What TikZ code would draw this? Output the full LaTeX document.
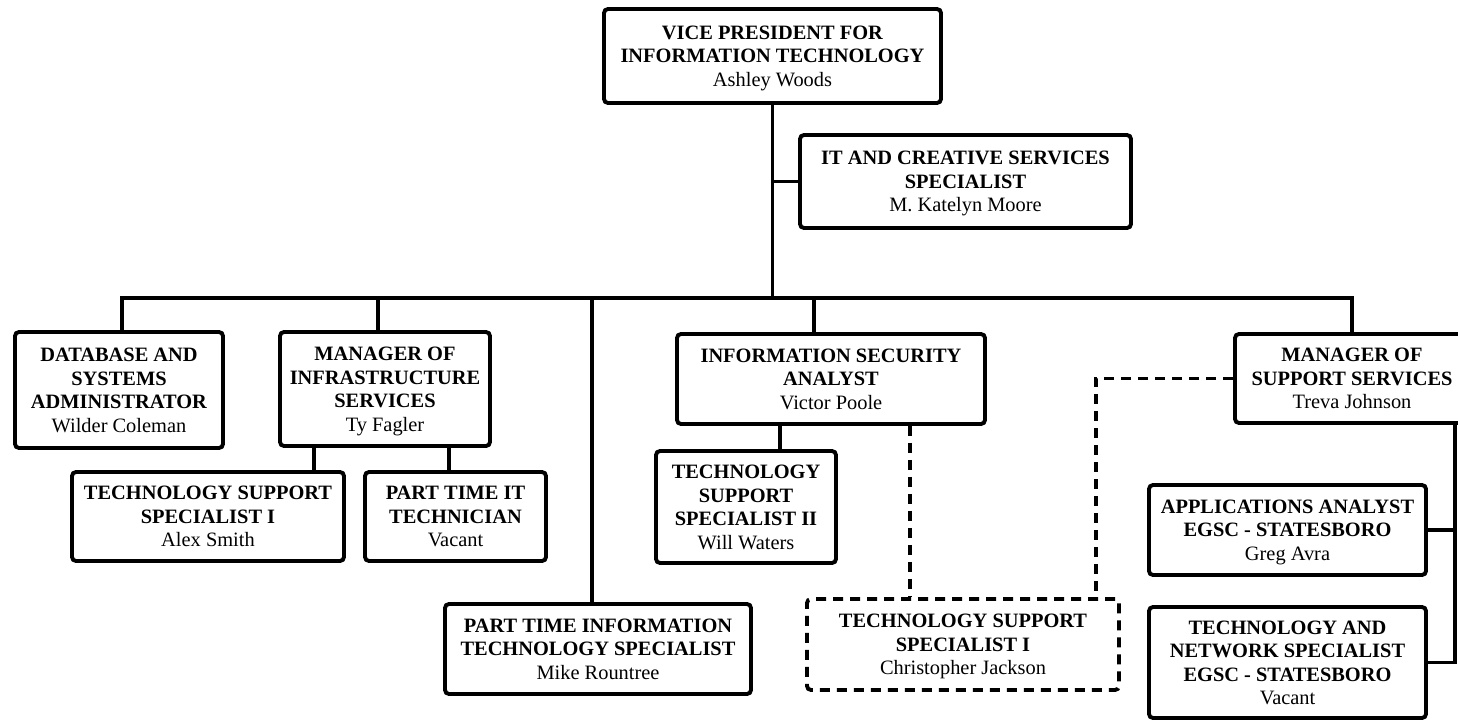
\documentclass[tikz,border=0pt]{standalone}
\usepackage{fontspec}
\setmainfont{Liberation Serif}
\begin{document}
\begin{tikzpicture}[x=1pt,y=-1pt,
  box/.style={draw, line width=3.9pt, rounded corners=4pt, align=center, inner sep=0pt,
    text depth=-5pt, font=\fontsize{20.4}{23.5}\selectfont},
  dbox/.style={box, dash pattern=on 10pt off 7pt},
  conn/.style={line width=3.6pt},
  dconn/.style={line width=3.6pt, dash pattern=on 10pt off 7pt}]
\useasboundingbox (0,0) rectangle (1458,723);
\fill[white] (0,0) rectangle (1458,723);
\begin{scope}
\clip (0,0) rectangle (1458,723);

\node[box, minimum width=337pt, minimum height=94pt] (vp) at (772.5,56)
  {\textbf{VICE PRESIDENT FOR}\\\textbf{INFORMATION TECHNOLOGY}\\Ashley Woods};
\node[box, minimum width=331pt, minimum height=93pt] (itc) at (965.5,181.5)
  {\textbf{IT AND CREATIVE SERVICES}\\\textbf{SPECIALIST}\\M. Katelyn Moore};
\node[box, minimum width=208pt, minimum height=116pt] (db) at (119,390)
  {\textbf{DATABASE AND}\\\textbf{SYSTEMS}\\\textbf{ADMINISTRATOR}\\Wilder Coleman};
\node[box, minimum width=210pt, minimum height=114pt] (mis) at (385,389)
  {\textbf{MANAGER OF}\\\textbf{INFRASTRUCTURE}\\\textbf{SERVICES}\\Ty Fagler};
\node[box, minimum width=272pt, minimum height=89pt] (tssa) at (208,516.5)
  {\textbf{TECHNOLOGY SUPPORT}\\\textbf{SPECIALIST I}\\Alex Smith};
\node[box, minimum width=181pt, minimum height=89pt] (ptit) at (455.5,516.5)
  {\textbf{PART TIME IT}\\\textbf{TECHNICIAN}\\Vacant};
\node[box, minimum width=306pt, minimum height=90pt] (ptis) at (598,649)
  {\textbf{PART TIME INFORMATION}\\\textbf{TECHNOLOGY SPECIALIST}\\Mike Rountree};
\node[box, minimum width=308pt, minimum height=90pt] (isa) at (831,379)
  {\textbf{INFORMATION SECURITY}\\\textbf{ANALYST}\\Victor Poole};
\node[box, minimum width=180pt, minimum height=112pt] (tssb) at (746,507)
  {\textbf{TECHNOLOGY}\\\textbf{SUPPORT}\\\textbf{SPECIALIST II}\\Will Waters};
\node[dbox, minimum width=312pt, minimum height=91pt] (tssd) at (963,644.5)
  {\textbf{TECHNOLOGY SUPPORT}\\\textbf{SPECIALIST I}\\Christopher Jackson};
\node[box, minimum width=234pt, minimum height=89pt] (mss) at (1352,378.5)
  {\textbf{MANAGER OF}\\\textbf{SUPPORT SERVICES}\\Treva Johnson};
\node[box, minimum width=277pt, minimum height=90pt] (aa) at (1287.5,530)
  {\textbf{APPLICATIONS ANALYST}\\\textbf{EGSC - STATESBORO}\\Greg Avra};
\node[box, minimum width=277pt, minimum height=111pt] (tn) at (1287.5,662.5)
  {\textbf{TECHNOLOGY AND}\\\textbf{NETWORK SPECIALIST}\\\textbf{EGSC - STATESBORO}\\Vacant};

\coordinate (bus) at (0,298);
\coordinate (rv) at (1455,0);

% trunk and bus
\draw[conn] (vp.south) -- (vp.south |- bus);
\draw[conn] (vp.south |- itc.west) -- (itc.west);
\draw[conn, line cap=rect] ([xshift=3pt]db.north) -- ([xshift=3pt]db.north |- bus) -- (mss.north |- bus) -- (mss.north);
\draw[conn] ([xshift=-7pt]mis.north) -- ([xshift=-7pt]mis.north |- bus);
\draw[conn] ([xshift=-6pt]ptis.north) -- ([xshift=-6pt]ptis.north |- bus);
\draw[conn] ([xshift=-17pt]isa.north) -- ([xshift=-17pt]isa.north |- bus);

% infrastructure
\draw[conn] ([xshift=-71pt]mis.south) -- ([xshift=-71pt]mis.south |- tssa.north);
\draw[conn] ([xshift=64pt]mis.south) -- ([xshift=64pt]mis.south |- ptit.north);

% security
\draw[conn] ([xshift=-51pt]isa.south) -- ([xshift=-51pt]isa.south |- tssb.north);
\draw[dconn] ([xshift=79pt]isa.south) -- ([xshift=79pt]isa.south |- tssd.north);

% support services
\draw[dconn] (mss.west) -| ([xshift=133pt]tssd.north);
\draw[conn] (mss.south -| rv) |- (aa.east);
\draw[conn] (mss.south -| rv) |- (tn.east);
\end{scope}
\end{tikzpicture}
\end{document}
